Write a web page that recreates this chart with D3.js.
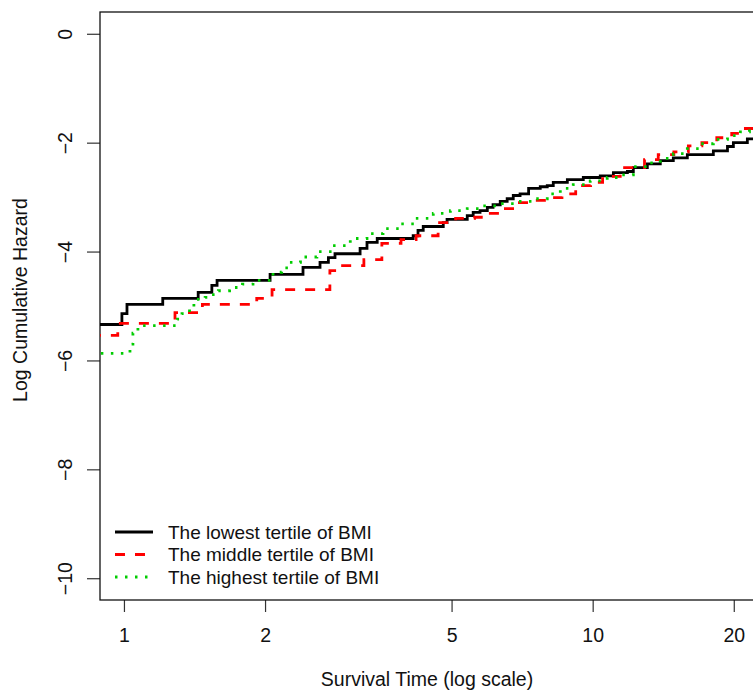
<!DOCTYPE html>
<html>
<head>
<meta charset="utf-8">
<script src="https://cdn.jsdelivr.net/npm/d3@7"></script>
<style>
  body { margin: 0; background: #fff; }
  svg { display: block; font-family: "Liberation Sans", Arial, sans-serif; }
</style>
</head>
<body>
<svg id="chart"></svg>
<script>
// step points: [time, log cumulative hazard]
const lowest = [
  [0.85, -5.34], [0.99, -5.14], [1.015, -4.97], [1.21, -4.86], [1.44, -4.75],
  [1.54, -4.62], [1.58, -4.53], [2.05, -4.42], [2.41, -4.29], [2.62, -4.2],
  [2.73, -4.11], [2.82, -4.04], [3.19, -3.94], [3.3, -3.83], [3.47, -3.76],
  [4.14, -3.71], [4.24, -3.61], [4.35, -3.54], [4.8, -3.47], [4.89, -3.41],
  [5.4, -3.34], [5.56, -3.28], [5.75, -3.25], [5.96, -3.19], [6.13, -3.14],
  [6.35, -3.08], [6.57, -3.03], [6.77, -2.97], [7.0, -2.94], [7.3, -2.84],
  [7.73, -2.81], [8.0, -2.79], [8.24, -2.73], [8.83, -2.68], [9.55, -2.64],
  [10.38, -2.61], [11.07, -2.55], [11.86, -2.53], [12.21, -2.46], [13.08, -2.39],
  [13.94, -2.33], [14.86, -2.28], [15.92, -2.22], [18.09, -2.15], [19.39, -2.07],
  [19.96, -2.0], [21.38, -1.93], [23, -1.91]
];
const middle = [
  [0.85, -5.54], [0.97, -5.32], [1.285, -5.12], [1.47, -4.97], [1.92, -4.86],
  [2.07, -4.7], [2.75, -4.35], [2.9, -4.26], [3.25, -4.15], [3.55, -3.85],
  [3.9, -3.78], [4.2, -3.71], [4.68, -3.47], [5.1, -3.39], [5.6, -3.37],
  [6.0, -3.3], [6.45, -3.21], [6.85, -3.1], [7.35, -3.06], [8.05, -3.01],
  [8.6, -2.94], [9.2, -2.79], [9.9, -2.73], [10.5, -2.62], [11.45, -2.46],
  [12.9, -2.31], [13.8, -2.22], [14.9, -2.17], [16.0, -2.06], [17.1, -2.0],
  [18.4, -1.91], [19.8, -1.83], [21.0, -1.74], [23, -1.72]
];
const highest = [
  [0.85, -5.87], [1.03, -5.7], [1.045, -5.5], [1.071, -5.36], [1.3, -5.24],
  [1.33, -5.14], [1.38, -5.06], [1.41, -4.95], [1.43, -4.88], [1.49, -4.84],
  [1.54, -4.79], [1.59, -4.72], [1.68, -4.66], [1.79, -4.6], [1.885, -4.53],
  [2.08, -4.38], [2.17, -4.3], [2.26, -4.2], [2.38, -4.1], [2.58, -4.0],
  [2.79, -3.89], [3.04, -3.76], [3.3, -3.67], [3.57, -3.58], [3.88, -3.49],
  [4.19, -3.39], [4.57, -3.3], [4.97, -3.25], [5.4, -3.21], [5.84, -3.16],
  [6.35, -3.12], [6.9, -3.08], [7.47, -3.03], [8.0, -2.94], [8.53, -2.84],
  [9.09, -2.77], [9.88, -2.7], [10.74, -2.64], [11.46, -2.59], [12.21, -2.44],
  [13.08, -2.37], [13.94, -2.29], [14.86, -2.2], [15.92, -2.11], [16.97, -2.02],
  [18.09, -1.94], [19.39, -1.87], [20.66, -1.8], [21.6, -1.72], [23, -1.7]
];

const xTicks = [1, 2, 5, 10, 20];
const yTicks = [0, -2, -4, -6, -8, -10];
const seriesNames = [
  "The lowest tertile of BMI",
  "The middle tertile of BMI",
  "The highest tertile of BMI"
];

const w = 753;
const h = 690;
const mLeft = 100;
const mTop = 12;
const plotW = 660;
const plotH = 588;
const fs = 19.5;

const svg = d3.select("#chart").attr("width", w).attr("height", h);

const x = d3.scaleLog().domain([0.889, 22.75]).range([mLeft, mLeft + plotW]);
const y = d3.scaleLinear().domain([-10.4, 0.4]).range([mTop + plotH, mTop]);

svg.append("defs").append("clipPath").attr("id", "plot")
  .append("rect")
  .attr("x", mLeft).attr("y", mTop)
  .attr("width", plotW).attr("height", plotH);

// axes, R style
const xAxis = d3.axisBottom(x).tickValues(xTicks).tickFormat(d3.format("d"))
  .tickSize(12).tickPadding(16);
const yAxis = d3.axisLeft(y).tickValues(yTicks).tickFormat((d) => d === 0 ? "0" : "\u2212" + Math.abs(d))
  .tickSize(13).tickPadding(8);

const gx = svg.append("g")
  .attr("transform", `translate(0, ${mTop + plotH})`)
  .call(xAxis);
gx.select(".domain").remove();
gx.selectAll("line").attr("stroke", "#333").attr("stroke-width", 1.2);
gx.selectAll("text").attr("font-size", fs).attr("fill", "#111");

const gy = svg.append("g")
  .attr("transform", `translate(${mLeft}, 0)`)
  .call(yAxis);
gy.select(".domain").remove();
gy.selectAll("line").attr("stroke", "#333").attr("stroke-width", 1.2);
gy.selectAll(".tick text")
  .attr("font-size", fs).attr("fill", "#111")
  .attr("text-anchor", "middle")
  .attr("x", null)
  .attr("transform", "translate(-35, 0) rotate(-90)")
  .attr("dy", "0.35em");

// box
svg.append("rect")
  .attr("x", mLeft).attr("y", mTop)
  .attr("width", plotW).attr("height", plotH)
  .attr("fill", "none").attr("stroke", "#111").attr("stroke-width", 1.3);

const line = d3.line()
  .x((d) => x(d[0]))
  .y((d) => y(d[1]))
  .curve(d3.curveStepAfter);

const styles = [
  { color: "#000000", dash: null },
  { color: "#ff0000", dash: "10,10" },
  { color: "#00cd00", dash: "2.5,7.5" }
];

const lines = svg.append("g").attr("clip-path", "url(#plot)");
[lowest, middle, highest].forEach((s, i) => {
  lines.append("path")
    .datum(s)
    .attr("d", line)
    .attr("fill", "none")
    .attr("stroke", styles[i].color)
    .attr("stroke-width", 2.8)
    .attr("stroke-dasharray", styles[i].dash);
});

// legend
const legend = svg.append("g").attr("transform", "translate(115, 532)");
seriesNames.forEach((name, i) => {
  const row = legend.append("g").attr("transform", `translate(0, ${i * 22.5})`);
  row.append("line")
    .attr("x1", 0).attr("x2", 38)
    .attr("stroke", styles[i].color)
    .attr("stroke-width", 2.8)
    .attr("stroke-dasharray", styles[i].dash);
  row.append("text")
    .attr("x", 53).attr("dy", "0.35em")
    .attr("font-size", 19).attr("fill", "#111")
    .text(name);
});

// axis titles
svg.append("text")
  .attr("x", mLeft + 327).attr("y", 686)
  .attr("text-anchor", "middle")
  .attr("font-size", fs).attr("fill", "#111")
  .text("Survival Time (log scale)");

svg.append("text")
  .attr("transform", `translate(27, 300) rotate(-90)`)
  .attr("text-anchor", "middle")
  .attr("font-size", fs).attr("fill", "#111")
  .text("Log Cumulative Hazard");
</script>
</body>
</html>
